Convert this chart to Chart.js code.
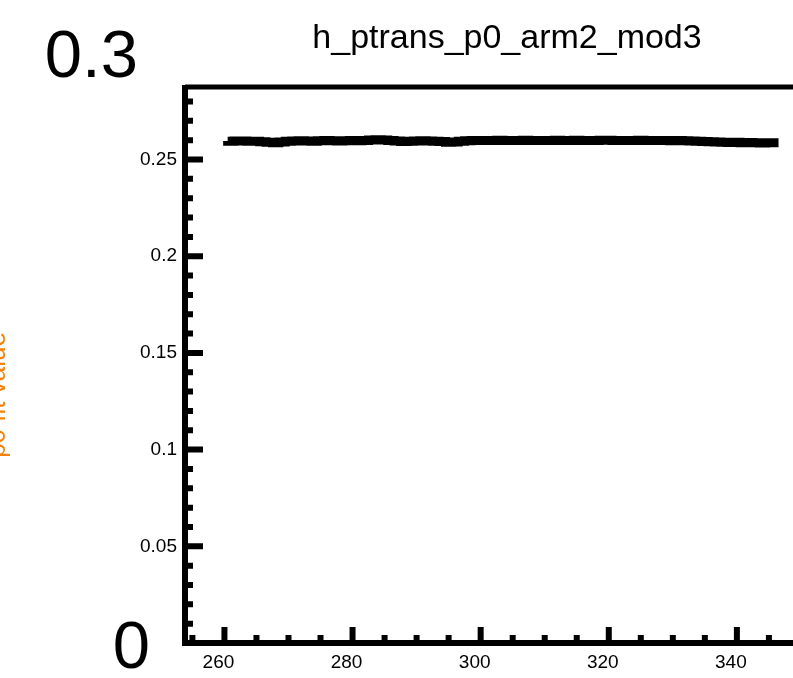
<!DOCTYPE html>
<html>
<head>
<meta charset="utf-8">
<script src="https://cdn.jsdelivr.net/npm/chart.js@4"></script>
<style>
    html, body { margin: 0; padding: 0; overflow: hidden; background: #fff; }
    #wrap { position: relative; width: 865px; height: 678px; }
</style>
</head>
<body>
<div id="wrap"><canvas id="chart"></canvas></div>
<script>
// ===== Data =====
const TITLE = 'h_ptrans_p0_arm2_mod3';
const Y_TITLE = 'p0 fit value';

const binCenters = [
    261, 262, 263, 264, 265, 266, 267, 268, 269, 270,
    271, 272, 273, 274, 275, 276, 277, 278, 279, 280,
    281, 282, 283, 284, 285, 286, 287, 288, 289, 290,
    291, 292, 293, 294, 295, 296, 297, 298, 299, 300,
    301, 302, 303, 304, 305, 306, 307, 308, 309, 310,
    311, 312, 313, 314, 315, 316, 317, 318, 319, 320,
    321, 322, 323, 324, 325, 326, 327, 328, 329, 330,
    331, 332, 333, 334, 335, 336, 337, 338, 339, 340,
    341, 342, 343, 344, 345, 346
];
const binValues = [
    0.2596, 0.2595, 0.2596, 0.2596, 0.2595, 0.2594, 0.2592, 0.2589, 0.2587, 0.2590,
    0.2595, 0.2596, 0.2597, 0.2596, 0.2595, 0.2597, 0.2598, 0.2597, 0.2596, 0.2597,
    0.2598, 0.2597, 0.2599, 0.2601, 0.2602, 0.2601, 0.2599, 0.2596, 0.2593, 0.2594,
    0.2596, 0.2597, 0.2596, 0.2595, 0.2593, 0.2589, 0.2590, 0.2594, 0.2597, 0.2598,
    0.2599, 0.2598, 0.2599, 0.2600, 0.2599, 0.2598, 0.2599, 0.2600, 0.2599, 0.2598,
    0.2598, 0.2599, 0.2600, 0.2599, 0.2599, 0.2600, 0.2599, 0.2598, 0.2599, 0.2600,
    0.2600, 0.2599, 0.2599, 0.2598, 0.2599, 0.2600, 0.2599, 0.2598, 0.2599, 0.2598,
    0.2597, 0.2598, 0.2597, 0.2596, 0.2595, 0.2593, 0.2592, 0.2590, 0.2589, 0.2588,
    0.2589, 0.2587, 0.2588, 0.2587, 0.2586, 0.2587
];

const xTickValues = [260, 280, 300, 320, 340];
const yTickValues = [0.05, 0.1, 0.15, 0.2, 0.25];
const yTickLabels = ['0.05', '0.1', '0.15', '0.2', '0.25'];
const yEndLabels = [{ value: 0.3, text: '0.3' }, { value: 0, text: '0' }];

const X_MIN = 254, X_MAX = 360;
const Y_MIN = 0, Y_MAX = 0.2875;
const X_MINOR = 5, X_MAJOR = 20;
const Y_MINOR = 0.01, Y_MAJOR = 0.05;

const FONT = '"Liberation Sans", Arial, Helvetica, sans-serif';

// histogram drawn as steps: left edge of each bin, plus closing right edge
const points = binCenters.map((c, i) => ({ x: c - 0.5, y: binValues[i] }));
points.push({ x: binCenters[binCenters.length - 1] + 0.5, y: binValues[binValues.length - 1] });

// ============ Frame / ticks / extra labels ============
const framePlugin = {
    id: 'rootFrame',
    afterDraw(chart) {
        const { ctx, chartArea, scales } = chart;
        const xs = scales.x, ys = scales.y;
        const y0 = ys.getPixelForValue(Y_MIN);
        const yTop = chartArea.top;
        const xAxis = chartArea.left - 1;
        ctx.save();
        ctx.strokeStyle = '#000';
        ctx.lineCap = 'butt';

        // axes + top frame
        ctx.lineWidth = 6;
        ctx.beginPath();
        ctx.moveTo(xAxis - 3, y0);
        ctx.lineTo(chart.width, y0);
        ctx.moveTo(xAxis, y0 + 3);
        ctx.lineTo(xAxis, yTop - 2);
        ctx.stroke();
        ctx.lineWidth = 5;
        ctx.beginPath();
        ctx.moveTo(xAxis, yTop);
        ctx.lineTo(chart.width, yTop);
        ctx.stroke();

        // inward ticks, x
        ctx.lineWidth = 6;
        ctx.beginPath();
        for (let v = Math.ceil(X_MIN / X_MINOR) * X_MINOR; v <= X_MAX; v += X_MINOR) {
            const px = xs.getPixelForValue(v);
            const len = v % X_MAJOR === 0 ? 16 : 8;
            ctx.moveTo(px, y0);
            ctx.lineTo(px, y0 - len);
        }
        // inward ticks, y
        for (let k = 1; k * Y_MINOR <= Y_MAX; k++) {
            const v = k * Y_MINOR;
            const py = ys.getPixelForValue(v);
            const major = Math.abs(v / Y_MAJOR - Math.round(v / Y_MAJOR)) < 1e-6;
            ctx.moveTo(xAxis, py);
            ctx.lineTo(xAxis + (major ? 18 : 8), py);
        }
        ctx.stroke();

        // big end labels of the y axis
        ctx.fillStyle = '#000';
        ctx.font = '67px ' + FONT;
        ctx.textAlign = 'right';
        ctx.textBaseline = 'middle';
        ctx.fillText(yEndLabels[0].text, xAxis - 47, ys.getPixelForValue(yEndLabels[0].value) - 4);
        ctx.fillText(yEndLabels[1].text, xAxis - 35, ys.getPixelForValue(yEndLabels[1].value) + 7);

        // title
        ctx.font = '34px ' + FONT;
        ctx.textAlign = 'center';
        ctx.textBaseline = 'alphabetic';
        ctx.fillText(TITLE, 507, 48);

        // y title, mostly off the left edge
        ctx.translate(5, 395);
        ctx.rotate(-Math.PI / 2);
        ctx.fillStyle = '#ff7f00';
        ctx.font = '26px ' + FONT;
        ctx.textAlign = 'center';
        ctx.fillText(Y_TITLE, 0, 0);
        ctx.restore();
    }
};

new Chart(document.getElementById('chart'), {
    type: 'line',
    data: {
        datasets: [{
            label: TITLE,
            data: points,
            borderColor: '#000',
            borderWidth: 9,
            stepped: 'after',
            pointRadius: 0,
            fill: false,
        }]
    },
    options: {
        responsive: true,
        maintainAspectRatio: false,
        animation: false,
        layout: { padding: { top: 87, right: 0, left: 0, bottom: 0 } },
        plugins: {
            legend: { display: false },
            title: { display: false },
            tooltip: { enabled: false }
        },
        scales: {
            x: {
                type: 'linear',
                min: X_MIN,
                max: X_MAX,
                afterBuildTicks: s => { s.ticks = xTickValues.map(v => ({ value: v })); },
                afterFit: s => { s.height = 35; },
                grid: { display: false, drawTicks: false },
                border: { display: false },
                ticks: {
                    autoSkip: false,
                    maxRotation: 0,
                    padding: 8,
                    labelOffset: -6,
                    color: '#000',
                    font: { family: FONT, size: 19 },
                    callback: v => String(v)
                }
            },
            y: {
                min: Y_MIN,
                max: Y_MAX,
                afterBuildTicks: s => { s.ticks = yTickValues.map(v => ({ value: v })); },
                afterFit: s => { s.width = 186; },
                grid: { display: false, drawTicks: false },
                border: { display: false },
                ticks: {
                    autoSkip: false,
                    padding: 9,
                    color: '#000',
                    font: { family: FONT, size: 19 },
                    callback: v => yTickLabels[yTickValues.indexOf(v)]
                }
            }
        }
    },
    plugins: [framePlugin]
});
</script>
</body>
</html>
